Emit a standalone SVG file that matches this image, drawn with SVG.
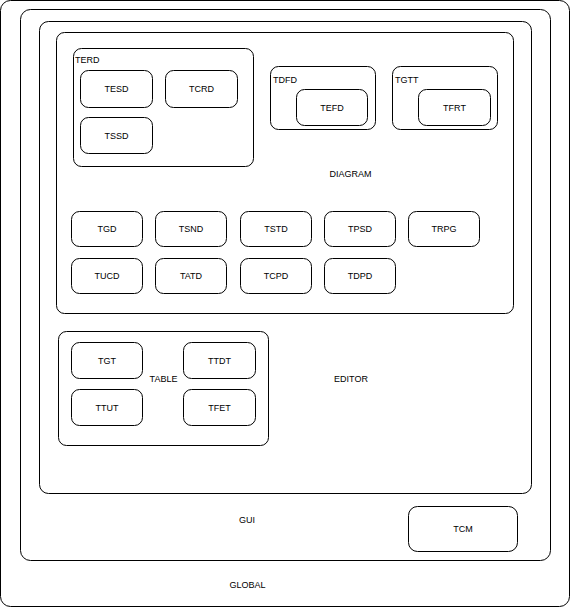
<svg xmlns="http://www.w3.org/2000/svg" width="571" height="608" viewBox="0 0 571 608">
<style>
rect{fill:none;stroke:#000;stroke-width:1}
text{font-family:"Liberation Sans",Arial,sans-serif;font-size:9px;fill:#000}
.c{text-anchor:middle}
</style>
<rect x="0" y="0" width="571" height="608" fill="#fff" style="fill:#fff;stroke:none"/>
<g id="GLOBAL">
<rect x="0.5" y="0.5" width="569" height="606" rx="10"/>
<text class="c" x="247.5" y="588">GLOBAL</text>
</g>
<g id="GUI">
<rect x="20.5" y="9.5" width="530" height="551" rx="10"/>
<text class="c" x="247" y="523">GUI</text>
</g>
<g id="EDITOR">
<rect x="39.5" y="21.5" width="492" height="472" rx="9"/>
<text class="c" x="351" y="381.5">EDITOR</text>
</g>
<g id="DIAGRAM">
<rect x="56.5" y="32.5" width="457" height="281" rx="8"/>
<text class="c" x="350.5" y="176.5">DIAGRAM</text>
</g>
<g id="TERD">
<rect x="73.5" y="48.5" width="180" height="118" rx="8"/>
<text x="75" y="63">TERD</text>
</g>
<g id="TESD"><rect x="80.5" y="70.5" width="72" height="37" rx="8"/><text class="c" x="116.5" y="91.5">TESD</text></g>
<g id="TCRD"><rect x="165.5" y="70.5" width="72" height="37" rx="8"/><text class="c" x="201.5" y="91.5">TCRD</text></g>
<g id="TSSD"><rect x="80.5" y="117.5" width="72" height="36" rx="8"/><text class="c" x="116.5" y="138.5">TSSD</text></g>
<g id="TDFD">
<rect x="270.5" y="66.5" width="105" height="63" rx="8"/>
<text x="273" y="82.5">TDFD</text>
</g>
<g id="TEFD"><rect x="296.5" y="89.5" width="71" height="36" rx="8"/><text class="c" x="332" y="110.5">TEFD</text></g>
<g id="TGTT">
<rect x="392.5" y="66.5" width="105" height="63" rx="8"/>
<text x="395" y="82.5">TGTT</text>
</g>
<g id="TFRT"><rect x="418.5" y="89.5" width="72" height="36" rx="8"/><text class="c" x="454.5" y="110.5">TFRT</text></g>
<g id="TGD"><rect x="71.5" y="211.5" width="71" height="35" rx="8"/><text class="c" x="107" y="232">TGD</text></g>
<g id="TSND"><rect x="155.5" y="211.5" width="71" height="35" rx="8"/><text class="c" x="191" y="232">TSND</text></g>
<g id="TSTD"><rect x="240.5" y="211.5" width="71" height="35" rx="8"/><text class="c" x="276" y="232">TSTD</text></g>
<g id="TPSD"><rect x="324.5" y="211.5" width="71" height="35" rx="8"/><text class="c" x="360" y="232">TPSD</text></g>
<g id="TRPG"><rect x="408.5" y="211.5" width="71" height="35" rx="8"/><text class="c" x="444" y="232">TRPG</text></g>
<g id="TUCD"><rect x="71.5" y="258.5" width="71" height="35" rx="8"/><text class="c" x="107" y="279">TUCD</text></g>
<g id="TATD"><rect x="155.5" y="258.5" width="71" height="35" rx="8"/><text class="c" x="191" y="279">TATD</text></g>
<g id="TCPD"><rect x="240.5" y="258.5" width="71" height="35" rx="8"/><text class="c" x="276" y="279">TCPD</text></g>
<g id="TDPD"><rect x="324.5" y="258.5" width="71" height="35" rx="8"/><text class="c" x="360" y="279">TDPD</text></g>
<g id="TABLE">
<rect x="58.5" y="331.5" width="210" height="114" rx="8"/>
<text class="c" x="163.5" y="382">TABLE</text>
</g>
<g id="TGT"><rect x="71.5" y="342.5" width="71" height="36" rx="8"/><text class="c" x="107" y="363.5">TGT</text></g>
<g id="TTDT"><rect x="183.5" y="342.5" width="72" height="36" rx="8"/><text class="c" x="219.5" y="363.5">TTDT</text></g>
<g id="TTUT"><rect x="71.5" y="389.5" width="71" height="36" rx="8"/><text class="c" x="107" y="410.5">TTUT</text></g>
<g id="TFET"><rect x="183.5" y="389.5" width="72" height="36" rx="8"/><text class="c" x="219.5" y="410.5">TFET</text></g>
<g id="TCM"><rect x="408.5" y="506.5" width="109" height="45" rx="9"/><text class="c" x="463" y="532">TCM</text></g>
<g id="connectors"></g>
</svg>
